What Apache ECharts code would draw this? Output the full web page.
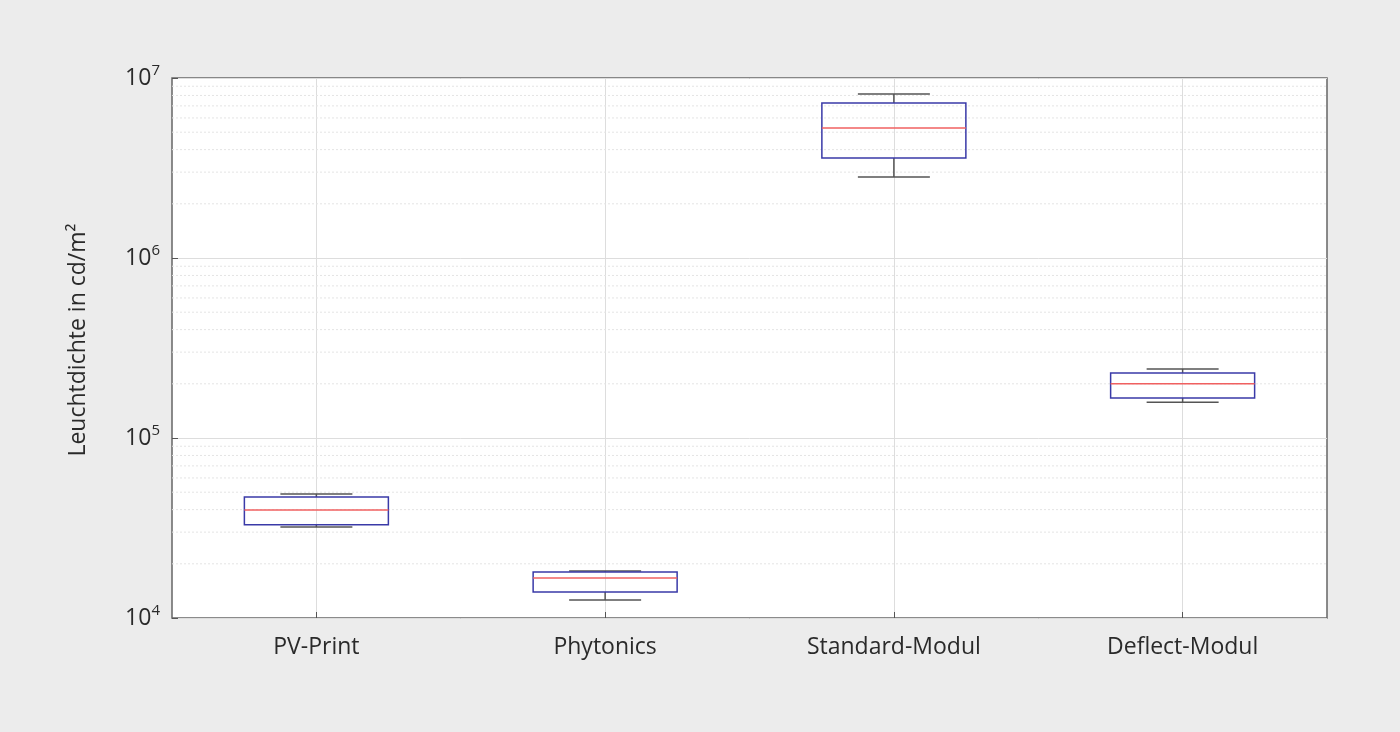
<!DOCTYPE html>
<html><head><meta charset="utf-8">
<script src="https://cdn.jsdelivr.net/npm/echarts@6/dist/echarts.min.js"></script>
<style>html,body{margin:0;background:#ececec}#c{width:1400px;height:732px}</style>
</head><body><div id="c"></div>
<script>
const categories = ['PV-Print','Phytonics','Standard-Modul','Deflect-Modul'];
const whiskerLow  = [32000, 12600, 2820000, 158000];
const boxLow      = [33000, 13950, 3590000, 167000];
const medians     = [39800, 16700, 5280000, 200000];
const boxHigh     = [47000, 18000, 7270000, 230000];
const whiskerHigh = [48900, 18240, 8150000, 242000];

const xData = [''];
categories.forEach(c => { xData.push(c); xData.push(''); });
const minorVals = [];
for (let e = 4; e < 7; e++) for (let m = 2; m <= 9; m++) minorVals.push(m * Math.pow(10, e));

const font = 'Open Sans';
const txt = '#2a2a2a';
const chart = echarts.init(document.getElementById('c'));
chart.setOption({
  backgroundColor: '#ececec',
  animation: false,
  grid: {left: 172, right: 73, top: 78, bottom: 114, show: true, backgroundColor: '#fff', borderColor: '#666', borderWidth: 1.5},
  xAxis: {type: 'category', boundaryGap: false, data: xData,
    axisLine: {show: false},
    axisTick: {show: true, inside: true, interval: i => i % 2 === 1, length: 6, lineStyle: {color: '#555'}},
    axisLabel: {interval: i => i % 2 === 1, fontFamily: font, fontSize: 23, color: txt, margin: 18},
    splitLine: {show: true, interval: i => i % 2 === 1, lineStyle: {color: '#ddd', width: 1}}},
  yAxis: {type: 'log', logBase: 10, min: 1e4, max: 1e7,
    name: 'Leuchtdichte in cd/m²', nameLocation: 'middle', nameGap: 82, nameRotate: 90,
    nameTextStyle: {fontFamily: font, fontSize: 23, color: txt, padding: [0, 0, 0, 16]},
    axisLine: {show: false},
    axisTick: {show: true, inside: true, length: 6, lineStyle: {color: '#555'}},
    axisLabel: {margin: 12, formatter: v => '{a|10}{b|' + Math.round(Math.log10(v)) + '}',
      rich: {a: {fontFamily: font, fontSize: 23, color: txt},
             b: {fontFamily: font, fontSize: 15, color: txt, verticalAlign: 'top', padding: [0,0,14,0]}}},
    splitLine: {show: true, lineStyle: {color: '#ddd', width: 1}}},
  series: [
    {type: 'custom', silent: true, z: 1,
      data: minorVals.map(v => [0, v]),
      renderItem: (p, api) => {
        const y = api.coord([0, api.value(1)])[1];
        const cs = p.coordSys;
        return {type: 'line', shape: {x1: cs.x, y1: y, x2: cs.x + cs.width, y2: y},
          style: {stroke: '#e4e4e4', lineWidth: 1, lineDash: [2, 2]}};
      }},
    {type: 'custom', z: 5,
      data: categories.map((c, i) => [2 * i + 1, whiskerLow[i], boxLow[i], medians[i], boxHigh[i], whiskerHigh[i]]),
      renderItem: (p, api) => {
        const x = api.coord([api.value(0), 1e4])[0];
        const y = k => api.coord([api.value(0), api.value(k)])[1];
        const hw = 72, cw = 36;
        const wl = y(1), bl = y(2), md = y(3), bh = y(4), wh = y(5);
        const gray = {stroke: '#555', lineWidth: 1.5};
        return {type: 'group', children: [
          {type: 'line', shape: {x1: x, y1: wh, x2: x, y2: bh}, style: gray},
          {type: 'line', shape: {x1: x, y1: bl, x2: x, y2: wl}, style: gray},
          {type: 'line', shape: {x1: x - cw, y1: wh, x2: x + cw, y2: wh}, style: gray},
          {type: 'line', shape: {x1: x - cw, y1: wl, x2: x + cw, y2: wl}, style: gray},
          {type: 'rect', shape: {x: x - hw, y: bh, width: 2 * hw, height: bl - bh}, style: {fill: 'none', stroke: '#3a3aa8', lineWidth: 1.5}},
          {type: 'line', shape: {x1: x - hw, y1: md, x2: x + hw, y2: md}, style: {stroke: '#f06060', lineWidth: 1.5}}
        ]};
      }}
  ]
});
</script></body></html>
